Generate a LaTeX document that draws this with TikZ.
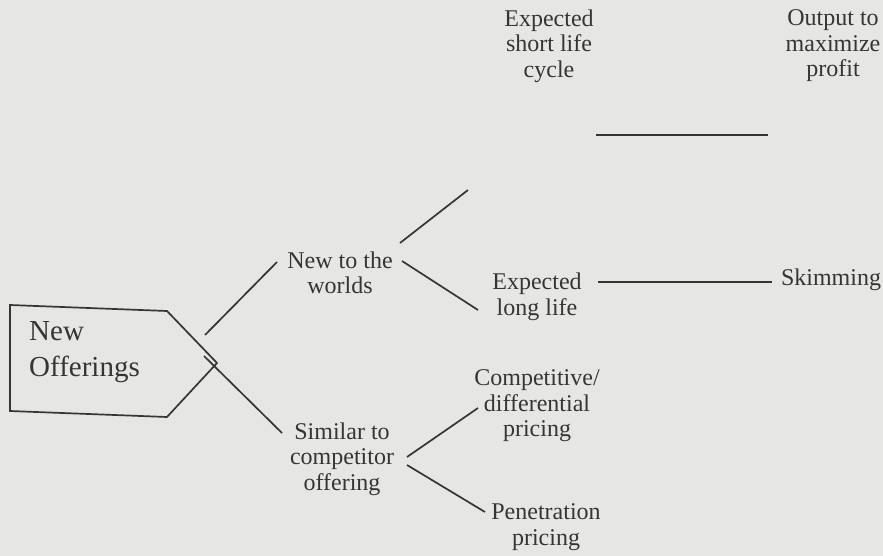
\documentclass[tikz,border=0pt]{standalone}
\usepackage{fontspec}
\setmainfont{Liberation Serif}
\definecolor{paper}{HTML}{E6E6E4}
\definecolor{ink}{HTML}{353535}
\begin{document}
\begin{tikzpicture}[x=1pt,y=-1pt,
  lbl/.style={align=center,text=ink,inner sep=0pt,font=\fontsize{24}{25.5}\selectfont},
  conn/.style={draw=ink,line width=1.7pt},
  offer/.style={align=left,text=ink,inner sep=0pt,anchor=north west,font=\fontsize{29}{36}\selectfont}]
\fill[paper] (0,0) rectangle (883,556);
\useasboundingbox (0,0) rectangle (883,556);
% pentagon
\draw[conn,line join=miter] (10,305) -- (167,311) -- (217,363) -- (167,417) -- (10,411) -- cycle;
\node[offer] (off) at (29,321) {New\\Offerings};
% labels
\node[lbl] (short) at (549,46) {Expected\\short life\\cycle};
\node[lbl] (out) at (833,46) {Output to\\maximize\\profit};
\node[lbl] (ntw) at (340,273) {New to the\\worlds};
\node[lbl] (long) at (537,297) {Expected\\long life};
\node[lbl] (skim) at (831,280) {Skimming};
\node[lbl] (sim) at (342,459) {Similar to\\competitor\\offering};
\node[lbl] (comp) at (537,406) {Competitive/\\differential\\pricing};
\node[lbl] (pen) at (546,527) {Penetration\\pricing};
% connector endpoints
\coordinate (a1) at (205,335); \coordinate (a2) at (277,262);
\coordinate (b1) at (204,356); \coordinate (b2) at (282,433);
\coordinate (c1) at (400,243); \coordinate (c2) at (468,190);
\coordinate (d1) at (402,261); \coordinate (d2) at (478,310);
\coordinate (e1) at (596,135); \coordinate (e2) at (768,135);
\coordinate (f1) at (598,282); \coordinate (f2) at (772,282);
\coordinate (g1) at (407,457); \coordinate (g2) at (478,408);
\coordinate (h1) at (407,465); \coordinate (h2) at (485,512);
\foreach \s/\t in {a1/a2,b1/b2,c1/c2,d1/d2,e1/e2,f1/f2,g1/g2,h1/h2}
  \draw[conn] (\s) -- (\t);
\end{tikzpicture}
\end{document}
